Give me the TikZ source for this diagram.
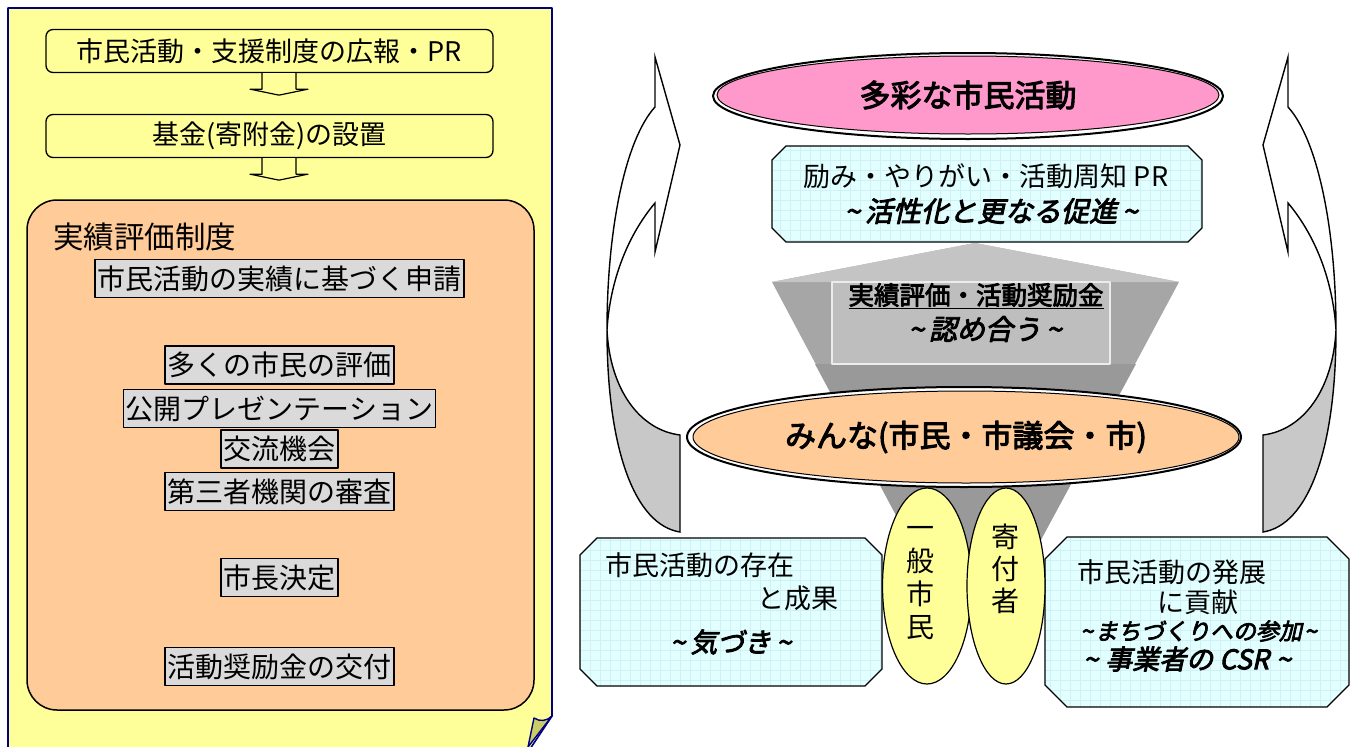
\documentclass[tikz,border=0pt]{standalone}
\usepackage{fontspec}
\setmainfont{Noto Sans CJK JP}[AutoFakeBold=3.2,AutoFakeSlant=0.22]
\usetikzlibrary{shapes.geometric}
\definecolor{panelY}{HTML}{FFFF99}
\definecolor{navyC}{HTML}{000080}
\definecolor{foldC}{HTML}{CCCC66}
\definecolor{orangeF}{HTML}{FFCC99}
\definecolor{grayB}{HTML}{DADADA}
\definecolor{pinkF}{HTML}{FF99CC}
\definecolor{cyanF}{HTML}{E2FFFF}
\definecolor{gridC}{HTML}{D0F0F6}
\definecolor{arrowG}{HTML}{C8C8C8}
\definecolor{funSide}{HTML}{A6A6A6}
\definecolor{funTop}{HTML}{C4C4C4}
\definecolor{funIn}{HTML}{BEBEBE}
\definecolor{funLow}{HTML}{999999}
\newcommand\myfs[2]{\fontsize{#1}{#2}\selectfont}
\newcommand\tlL{\textasciitilde\hspace{5pt}}
\newcommand\tlR{\hspace{5pt}\textasciitilde}
\newcommand\octa[5]{(#1+#5,#2) -- (#3-#5,#2) -- (#3,#2+#5) -- (#3,#4-#5) -- (#3-#5,#4) -- (#1+#5,#4) -- (#1,#4-#5) -- (#1,#2+#5) -- cycle}
\newcommand\octbox[5]{%
  \begin{scope}
    \clip \octa{#1}{#2}{#3}{#4}{#5};
    \fill[cyanF] (#1,#2) rectangle (#3,#4);
    \draw[gridC, line width=0.5pt, step=10pt] (#1,#4) grid (#3,#2);
  \end{scope}
  \draw[line width=1.3pt] \octa{#1}{#2}{#3}{#4}{#5};}
\newcommand\curvarrow{%
  \draw[arrowline, fill=white] (655,57) -- (680,145) -- (655,252) -- (655,203)
     .. controls (628,235) and (610,280) .. (607,330)
     .. controls (607,230) and (625,140) .. (655,107) -- cycle;
  \draw[arrowline, fill=arrowG] (607,330) .. controls (610,390) and (640,430) .. (680,435)
     -- (680,532) .. controls (635,525) and (607,450) .. (607,330) -- cycle;}
\tikzset{
  boxA/.style={draw, line width=1.3pt, fill=panelY, rounded corners=7pt,
    minimum width=447pt, minimum height=43pt, inner sep=0pt, font=\myfs{27}{30}},
  hollow/.style={draw, line width=1.2pt, fill=panelY},
  gbox/.style={draw, line width=1.5pt, fill=grayB, inner xsep=2.5pt, inner ysep=0pt,
    minimum height=38pt, font=\myfs{28}{32}},
  arrowline/.style={draw=black, line width=1.4pt, line join=miter},
  txt/.style={inner sep=0pt},
  reg/.style={txt, font=\myfs{27}{30}},
  bit/.style={txt, font=\myfs{27}{30}\bfseries\itshape},
}
\begin{document}
\begin{tikzpicture}[x=1pt, y=-1pt, line join=round]
\useasboundingbox (0,0) rectangle (1353,747);
\clip (0,0) rectangle (1353,747);
\fill[white] (0,0) rectangle (1353,747);

% ---------- left panel ----------
\draw[navyC, line width=1.6pt, fill=panelY] (8,752) -- (8,8) -- (552,8) -- (552,716) -- (528,752);
\draw[navyC, line width=1.4pt, fill=foldC] (534,718) .. controls (540,722) and (547,721) .. (552,716) -- (528,747) -- cycle;

\node[boxA] (pr) at (269.5,51) {市民活動・支援制度の広報・PR};
\node[boxA] (kikin) at (269.5,136) {基金(寄附金)の設置};
\draw[hollow] (pr.south) ++(-7.5,0) -- ++(0,16) -- ++(-12,0) -- ++(29,6) -- ++(29,-6) -- ++(-12,0) -- ++(0,-16);
\draw[hollow] (kikin.south) ++(-7.5,0) -- ++(0,16) -- ++(-12,0) -- ++(29,6) -- ++(29,-6) -- ++(-12,0) -- ++(0,-16);

\draw[line width=1.5pt, fill=orangeF, rounded corners=30pt] (27,200) rectangle (534,710);
\node[txt, anchor=west, font=\myfs{30.5}{36}] (ttl) at (53,237) {実績評価制度};
\node[gbox] (g1) at (279.5,278.5) {市民活動の実績に基づく申請};
\node[gbox] (g2) at (279.5,365) {多くの市民の評価};
\node[gbox] (g3) at (279.5,408.5) {公開プレゼンテーション};
\node[gbox] (g4) at (279.5,449) {交流機会};
\node[gbox] (g5) at (279.5,491.5) {第三者機関の審査};
\node[gbox] (g6) at (279.5,577.5) {市長決定};
\node[gbox] (g7) at (279.5,666.5) {活動奨励金の交付};

% ---------- right side ----------
\curvarrow
\begin{scope}[xshift=1943pt, xscale=-1]
  \curvarrow
\end{scope}

% funnel
\fill[funSide] (975,243) -- (772,282) -- (920,560) -- (1030,560) -- (1179,282) -- cycle;
\fill[funLow] (815,364) -- (1136,364) -- (1030,560) -- (920,560) -- cycle;
\fill[funTop] (975,243) -- (772,282) -- (1179,282) -- cycle;
\draw[draw=white!85!gray, line width=1.2pt, fill=funIn] (832,282) rectangle (1110,364);

% top pink ellipse
\node[ellipse, draw, line width=2pt, fill=white, minimum width=510pt, minimum height=86pt, inner sep=0pt] (tasaiO) at (968,96) {};
\node[ellipse, draw, line width=1pt, fill=pinkF, minimum width=502pt, minimum height=78pt, inner sep=0pt,
  font=\myfs{31}{36}\bfseries] (tasai) at (968,95) {多彩な市民活動};

% top octagon
\octbox{772}{146}{1202}{242}{14}
\node[reg] (hagemi) at (986,176) {励み・やりがい・活動周知 PR};
\node[bit, font=\myfs{28}{32}\bfseries\itshape] (kasseika) at (991,211) {\tlL 活性化と更なる促進\tlR};

% funnel text
\node[txt, font=\myfs{25.5}{30}\bfseries] (jisseki) at (976,296) {\underline{実績評価・活動奨励金}};
\node[bit, font=\myfs{28}{32}\bfseries\itshape] (mitome) at (985,329) {\tlL 認め合う\tlR};

% orange ellipse
\node[ellipse, draw, line width=2pt, fill=white, minimum width=554pt, minimum height=100pt, inner sep=0pt] (minnaO) at (964,437) {};
\node[ellipse, draw, line width=1pt, fill=orangeF, minimum width=546pt, minimum height=92pt, inner sep=0pt,
  font=\myfs{31}{36}\bfseries] (minna) at (966,437) {みんな(市民・市議会・市)};

% lower octagons
\octbox{580}{538}{882}{686}{17}
\node[reg, anchor=west] (sonzai) at (605,565) {市民活動の存在};
\node[reg, anchor=west] (seika) at (757,598) {と成果};
\node[bit, anchor=west] (kizuki) at (670,642) {\tlL 気づき\tlR};

\octbox{1045}{537}{1349}{707}{22}
\node[reg, anchor=west] (hatten) at (1077,572) {市民活動の発展};
\node[reg, anchor=west] (kouken) at (1157,602) {に貢献};
\node[bit, anchor=west, font=\myfs{23}{28}\bfseries\itshape] (machi) at (1080,631) {\textasciitilde\hspace{2pt}まちづくりへの参加\hspace{2pt}\textasciitilde};
\node[bit, anchor=west, font=\myfs{27}{30}\bfseries\itshape] (csr) at (1083,659) {\textasciitilde\hspace{7pt}事業者の CSR\hspace{7pt}\textasciitilde};

% ovals
\node[ellipse, draw, line width=1.2pt, fill=panelY, minimum width=89pt, minimum height=196pt, inner sep=0pt] (ippanO) at (927,586) {};
\node[ellipse, draw, line width=1.2pt, fill=panelY, minimum width=78pt, minimum height=196pt, inner sep=0pt] (kifuO) at (1006,586) {};
\node[txt, align=center, font=\myfs{28}{33}] (ippan) at (920,583) {一\\般\\市\\民};
\node[txt, align=center, font=\myfs{28}{32}] (kifu) at (1005,569) {寄\\付\\者};
\end{tikzpicture}
\end{document}
